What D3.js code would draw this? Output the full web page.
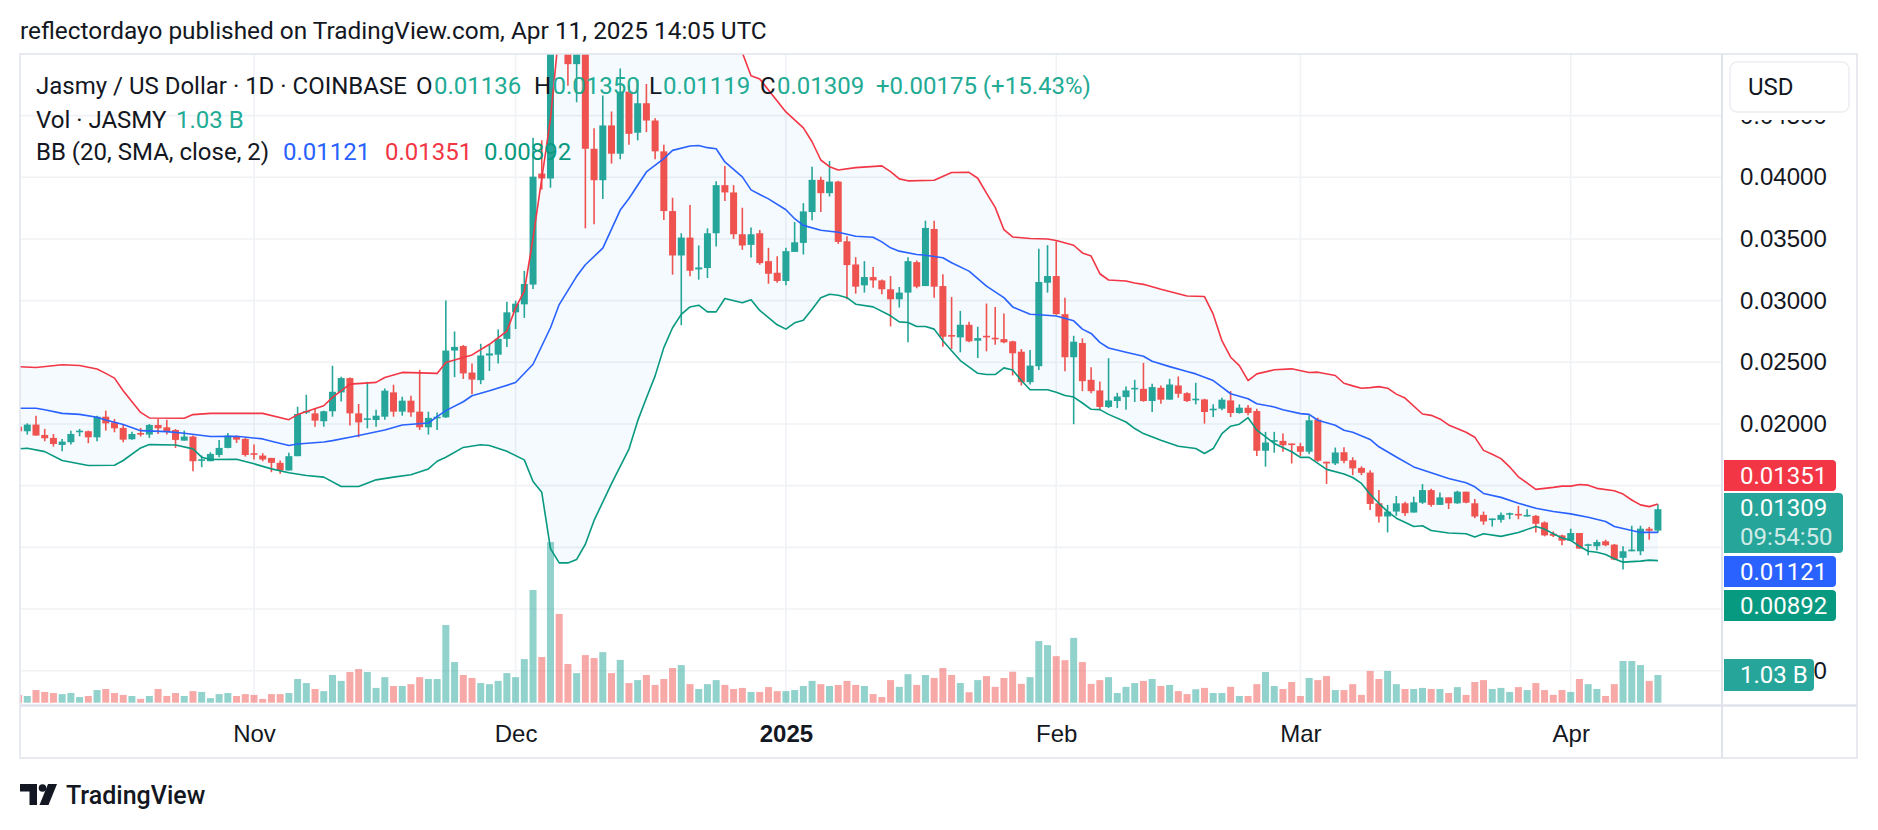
<!DOCTYPE html>
<html><head><meta charset="utf-8">
<script src="https://cdn.jsdelivr.net/npm/d3@7"></script>
<style>
body{margin:0;background:#fff;}
svg{display:block;font-family:Roboto,"Liberation Sans",Arial,sans-serif;}
</style></head>
<body><svg id="chart" width="1878" height="830"></svg>
<script>
// ---------------- DATA (daily candles, first = 2024-10-05) ----------------
const startDate = "2024-10-05";
const opens = [.01978,.01941,.01995,.01911,.01887,.01830,.01852,.01938,.01941,.01892,.02059,.02013,.01968,.01876,.01927,.01914,.01992,.01973,.01951,.01865,.01898,.01704,.01698,.01749,.01806,.01900,.01879,
.01763,.01744,.01725,.01685,.01623,.01739,.02092,.02086,.02022,.02103,.02256,.02372,.02086,.02035,.02032,.02059,.02256,.02100,.02189,.02100,.01973,.02049,.02054,.02595,.02632,.02417,.02355,.02555,.02562,.02690,
.02905,.02970,.03130,.04030,.03990,.05600,.05300,.04917,.05120,.04231,.03976,.04420,.04191,.04694,.04361,.04600,.04460,.04210,.03726,.03366,.03511,.03253,.03264,.03546,.03936,.03877,.03538,.03452,.03546,.03320,.03226,
.03159,.03395,.03468,.03718,.03979,.03871,.03965,.03481,.03293,.03124,.03191,.03164,.03092,.03011,.03065,.03312,.03118,.03581,.03118,.02721,.02702,.02804,.02675,.02715,.02699,.02688,.02670,.02586,.02339,.02468,.03145,
.03199,.02890,.02541,.02656,.02358,.02272,.02138,.02186,.02218,.02283,.02285,.02186,.02293,.02197,.02312,.02250,.02197,.02199,.02111,.02124,.02191,.02089,.02132,.02105,.01783,.01858,.01863,.01842,
.01820,.01775,.02035,.01694,.01680,.01771,.01706,.01644,.01606,.01357,.01250,.01290,.01357,.01282,.01362,.01464,.01344,.01405,.01357,.01451,.01357,.01263,.01223,.01223,.01266,.01271,.01252,.01255,.01202,.01110,.01097,
.01054,.01116,.01014,.01009,.01049,.01022,.00915,.00968,.00968,.01151,.01136];
const highs = [.01987,.02005,.02067,.01960,.01919,.01879,.01946,.01960,.01946,.02067,.02108,.02040,.02000,.01938,.01968,.02000,.02040,.02035,.01960,.01946,.01906,.01744,.01771,.01871,.01927,.01906,.01887,
.01833,.01763,.01725,.01704,.01766,.02140,.02237,.02127,.02108,.02472,.02383,.02377,.02162,.02342,.02116,.02288,.02318,.02221,.02229,.02439,.02100,.02094,.03000,.02750,.02640,.02490,.02650,.02646,.02765,.02990,
.03000,.03240,.04320,.04300,.06000,.06100,.05450,.05300,.05250,.04398,.04662,.04533,.04882,.04742,.04791,.04756,.04479,.04264,.03834,.03546,.03775,.03447,.03586,.03968,.04092,.03936,.03753,.03592,.03573,.03428,.03360,
.03428,.03637,.03790,.04086,.04005,.04132,.03971,.03522,.03352,.03320,.03272,.03172,.03199,.03110,.03352,.03325,.03648,.03648,.03213,.03030,.02917,.02828,.02788,.02976,.02949,.02895,.02675,.02608,.02600,.03420,.03449,
.03481,.03024,.02715,.02694,.02460,.02344,.02533,.02253,.02304,.02358,.02495,.02326,.02312,.02366,.02385,.02258,.02334,.02205,.02159,.02213,.02266,.02159,.02154,.02124,.01936,.01936,.01922,.01842,
.01847,.02070,.02051,.01694,.01809,.01811,.01730,.01657,.01625,.01464,.01344,.01416,.01370,.01411,.01513,.01475,.01445,.01405,.01459,.01451,.01392,.01290,.01234,.01282,.01282,.01336,.01309,.01263,.01210,.01129,.01102,
.01151,.01116,.01030,.01062,.01062,.01027,.01009,.01175,.01175,.01164,.01350];
const lows = [.01933,.01914,.01906,.01860,.01817,.01779,.01833,.01900,.01844,.01860,.01946,.01933,.01852,.01873,.01898,.01887,.01919,.01914,.01806,.01865,.01617,.01650,.01698,.01731,.01803,.01846,.01736,
.01712,.01698,.01609,.01596,.01623,.01739,.02081,.01978,.01978,.02059,.02183,.01987,.01892,.01965,.01978,.02035,.02059,.02067,.02059,.01951,.01914,.01951,.02049,.02380,.02365,.02240,.02323,.02430,.02490,.02625,
.02770,.02860,.03095,.03900,.03914,.05150,.04742,.04608,.03586,.03619,.03823,.04111,.04146,.04264,.04299,.04366,.04146,.03654,.03210,.02801,.03197,.03170,.03183,.03439,.03807,.03500,.03412,.03350,.03291,.03137,.03145,
.03124,.03395,.03374,.03651,.03718,.03844,.03460,.03011,.03057,.03065,.03105,.03051,.02791,.02944,.02662,.03100,.03118,.03024,.02627,.02608,.02581,.02662,.02535,.02589,.02643,.02655,.02393,.02312,.02320,.02438,.03065,
.02885,.02428,.01998,.02266,.02250,.02116,.02129,.02129,.02116,.02178,.02180,.02097,.02164,.02197,.02213,.02178,.02159,.02003,.02057,.02111,.02057,.02084,.02070,.01740,.01654,.01767,.01775,.01680,
.01740,.01756,.01694,.01514,.01667,.01682,.01585,.01585,.01303,.01202,.01121,.01255,.01255,.01282,.01352,.01330,.01344,.01311,.01352,.01357,.01236,.01183,.01169,.01202,.01228,.01228,.01250,.01121,.01089,.01084,.01017,
.01049,.00987,.00936,.00976,.01009,.00896,.00821,.00968,.00936,.01062,.01119];
const closes = [.01941,.01995,.01906,.01884,.01838,.01857,.01919,.01946,.01892,.02059,.02005,.01965,.01873,.01919,.01914,.01992,.01965,.01941,.01871,.01898,.01698,.01714,.01757,.01806,.01906,.01873,.01749,
.01752,.01712,.01685,.01623,.01739,.02081,.02105,.02027,.02103,.02261,.02372,.02086,.02013,.02046,.02067,.02270,.02100,.02189,.02094,.01973,.02049,.02059,.02595,.02625,.02410,.02360,.02555,.02572,.02690,.02905,
.02975,.03135,.04005,.03990,.05600,.05300,.04917,.05120,.04231,.03976,.04420,.04191,.04694,.04352,.04600,.04460,.04210,.03726,.03366,.03511,.03242,.03269,.03546,.03936,.03877,.03538,.03447,.03538,.03304,.03218,.03159,
.03401,.03473,.03723,.03979,.03871,.03965,.03476,.03288,.03113,.03191,.03164,.03092,.03011,.03065,.03320,.03113,.03589,.03113,.02707,.02710,.02804,.02670,.02696,.02702,.02688,.02662,.02573,.02339,.02473,.03151,.03199,
.02890,.02541,.02667,.02347,.02266,.02138,.02191,.02223,.02272,.02293,.02186,.02299,.02197,.02320,.02245,.02186,.02205,.02097,.02124,.02197,.02089,.02132,.02089,.01783,.01850,.01869,.01828,.01831,
.01775,.02030,.01702,.01680,.01769,.01701,.01640,.01604,.01352,.01250,.01290,.01357,.01277,.01365,.01464,.01344,.01405,.01357,.01451,.01362,.01250,.01210,.01234,.01263,.01277,.01261,.01263,.01191,.01097,.01094,.01054,
.01116,.00990,.01025,.01043,.01017,.00901,.00968,.00982,.01151,.01134,.01309];
// volume in billions JASMY
const volumes = [.29,.25,.47,.40,.36,.32,.36,.21,.25,.47,.51,.36,.29,.25,.14,.25,.51,.25,.36,.25,.43,.40,.17,.32,.36,.25,.32,
.29,.14,.32,.32,.36,.88,.73,.51,.43,1.03,.81,1.14,1.25,1.14,.55,.95,.62,.62,.69,.95,.88,.88,2.89,1.51,1.03,.92,.73,.69,.81,1.10,
.95,1.62,4.19,1.70,5.97,3.30,1.44,1.10,1.77,1.66,1.88,1.10,1.59,.73,.84,1.03,.66,.88,1.29,1.40,.69,.51,.69,.84,.66,.51,.55,.40,.40,.58,.43,
.43,.47,.62,.81,.69,.62,.66,.81,.66,.62,.32,.21,.84,.59,1.06,.66,1.03,.92,1.29,1.03,.73,.39,.84,.99,.59,.92,1.15,.70,.95,2.29,2.14,
1.73,1.58,2.41,1.51,.70,.84,.95,.36,.59,.73,.81,.88,.62,.66,.43,.32,.50,.55,.36,.36,.59,.25,.25,.69,1.14,.62,.51,.77,
.25,.92,.84,.99,.47,.47,.69,.29,1.18,.88,1.18,.69,.51,.51,.55,.51,.51,.36,.58,.29,.77,.84,.51,.55,.40,.58,.47,.73,.47,.29,.47,
.40,.88,.69,.51,.25,.69,1.55,1.55,1.40,.81,1.03];
// Bollinger Bands (20, SMA, close, 2): [candle index, value]
const bbUpper = [[0,.02464],[2,.02458],[5,.02480],[7,.02474],[9,.02445],[10,.02410],[11,.02372],[12,.02270],[14,.02094],[15,.02049],[19,.02046],[20,.02076],[22,.02086],[28,.02086],[31,.02035],[32,.02076],[35,.02148],[36,.02216],[38,.02323],[41,.02337],[42,.02377],[44,.02418],[48,.02410],[49,.02499],[52,.02560],[54,.02646],[56,.02753],[57,.02941],[58,.03076],[59,.03506],[60,.03990],[61,.04473],[62,.05200],[63,.05600],[65,.06100],[68,.06400],[72,.06500],[76,.06400],[79,.06000],[81,.05500],[83,.05010],[84,.04823],[85,.04796],[88,.04530],[90,.04400],[91,.04288],[92,.04140],[93,.04086],[94,.04059],[96,.04078],[99,.04092],[100,.04046],[101,.03987],[102,.03971],[105,.03976],[107,.04038],[109,.04040],[110,.03992],[111,.03871],[112,.03756],[113,.03575],[114,.03516],[116,.03503],[118,.03500],[119,.03487],[121,.03449],[122,.03387],[123,.03361],[124,.03218],[125,.03167],[127,.03159],[128,.03143],[129,.03132],[131,.03092],[134,.03038],[136,.03033],[137,.02890],[138,.02675],[139,.02541],[140,.02473],[141,.02352],[142,.02406],[144,.02439],[146,.02447],[148,.02417],[149,.02420],[151,.02393],[152,.02330],[153,.02309],[154,.02290],[155,.02295],[156,.02303],[157,.02290],[158,.02242],[159,.02210],[161,.02081],[162,.02070],[163,.02041],[164,.01992],[166,.01933],[167,.01893],[168,.01786],[169,.01754],[170,.01719],[171,.01652],[172,.01572],[174,.01470],[176,.01486],[177,.01496],[178,.01496],[179,.01510],[180,.01504],[181,.01478],[183,.01459],[184,.01432],[185,.01384],[186,.01344],[187,.01330],[188,.01351]];
const bbMiddle = [[0,.02127],[2,.02127],[3,.02116],[5,.02086],[7,.02078],[9,.02054],[10,.02032],[12,.01995],[14,.01946],[17,.01938],[19,.01925],[22,.01898],[25,.01900],[28,.01879],[29,.01860],[31,.01825],[32,.01838],[35,.01854],[36,.01865],[38,.01892],[39,.01906],[42,.01951],[44,.01992],[47,.02008],[48,.02059],[49,.02108],[51,.02180],[52,.02229],[54,.02269],[57,.02336],[59,.02484],[61,.02780],[62,.02968],[64,.03197],[65,.03291],[67,.03425],[69,.03734],[70,.03828],[72,.04043],[74,.04151],[75,.04218],[77,.04253],[78,.04258],[79,.04240],[80,.04231],[81,.04124],[83,.04003],[84,.03898],[85,.03860],[86,.03825],[88,.03737],[89,.03664],[90,.03610],[92,.03570],[94,.03554],[96,.03522],[98,.03514],[99,.03476],[100,.03428],[101,.03401],[103,.03374],[104,.03368],[106,.03347],[107,.03307],[109,.03239],[111,.03118],[113,.03024],[114,.02949],[116,.02890],[117,.02885],[119,.02875],[121,.02836],[122,.02769],[123,.02734],[124,.02662],[125,.02616],[127,.02581],[129,.02549],[130,.02508],[132,.02465],[134,.02425],[135,.02406],[137,.02352],[138,.02299],[139,.02245],[141,.02205],[142,.02164],[144,.02138],[145,.02116],[147,.02084],[148,.02078],[149,.02030],[151,.01990],[152,.01949],[153,.01933],[155,.01875],[156,.01815],[158,.01732],[160,.01652],[162,.01604],[164,.01558],[166,.01523],[167,.01491],[168,.01437],[170,.01405],[172,.01357],[174,.01317],[176,.01290],[178,.01271],[180,.01244],[182,.01210],[183,.01169],[185,.01137],[186,.01121],[188,.01121]];
const bbLower = [[0,.01798],[1,.01803],[3,.01776],[5,.01704],[8,.01663],[11,.01666],[12,.01704],[14,.01806],[15,.01833],[18,.01830],[20,.01798],[21,.01731],[22,.01712],[25,.01714],[27,.01677],[29,.01636],[31,.01604],[33,.01582],[35,.01569],[37,.01493],[39,.01493],[41,.01547],[43,.01569],[45,.01588],[47,.01636],[48,.01698],[49,.01730],[51,.01810],[53,.01832],[54,.01825],[56,.01779],[58,.01709],[59,.01534],[60,.01446],[61,.00990],[62,.00874],[63,.00874],[64,.00902],[65,.01025],[66,.01218],[68,.01516],[69,.01657],[70,.01797],[71,.02025],[72,.02210],[73,.02390],[74,.02619],[75,.02780],[76,.02888],[77,.02949],[78,.02963],[79,.02909],[80,.02909],[81,.03017],[83,.02982],[84,.03008],[85,.02920],[86,.02863],[87,.02804],[88,.02769],[89,.02820],[90,.02841],[91,.02930],[92,.03024],[93,.03051],[94,.03043],[95,.03024],[96,.02971],[98,.02949],[100,.02877],[101,.02828],[102,.02823],[103,.02790],[104,.02790],[105,.02769],[106,.02675],[107,.02594],[108,.02514],[110,.02411],[111,.02401],[112,.02401],[113,.02455],[114,.02438],[115,.02352],[116,.02277],[118,.02277],[119,.02258],[120,.02231],[121,.02218],[122,.02170],[123,.02119],[124,.02116],[125,.02078],[127,.02016],[128,.01963],[129,.01922],[131,.01869],[133,.01820],[135,.01801],[136,.01761],[137,.01801],[138,.01922],[139,.01982],[140,.01998],[141,.02051],[142,.01950],[144,.01842],[146,.01775],[147,.01729],[148,.01729],[149,.01681],[150,.01632],[152,.01594],[153,.01566],[154,.01518],[155,.01430],[156,.01357],[157,.01290],[158,.01236],[160,.01169],[161,.01175],[162,.01137],[164,.01116],[166,.01110],[167,.01084],[168,.01110],[170,.01089],[172,.01121],[174,.01169],[175,.01148],[176,.01110],[177,.01076],[178,.01057],[179,.01009],[180,.00968],[181,.00960],[182,.00942],[183,.00907],[184,.00880],[186,.00888],[187,.00896],[188,.00892]];
// axis ticks
const priceGridTicks = [0.045,0.04,0.035,0.03,0.025,0.02,0.015,0.01,0.005,0];
const priceLabelTicks = [0.045,0.04,0.035,0.03,0.025,0.02,0];
const monthTickDates = ["2024-11-01","2024-12-01","2025-01-01","2025-02-01","2025-03-01","2025-04-01"];
const monthTickLabels = ["Nov","Dec","2025","Feb","Mar","Apr"];
// last values / tags
const lastUpper = 0.01351, lastClose = 0.01309, lastMiddle = 0.01121, lastLower = 0.00892, lastVolume = 1.03;
const countdown = "09:54:50";

// ---------------- LAYOUT ----------------
const C = {up:"#26a69a", down:"#ef5350", volUp:"rgba(38,166,154,0.5)", volDown:"rgba(239,83,80,0.5)",
  bbMid:"#2962ff", bbUp:"#f23645", bbLow:"#089981", fill:"rgba(33,150,243,0.05)", text:"#131722",
  grid:"#f0f2f5", border:"#e0e3eb"};
const pane = {l:20, r:1722, t:54, b:705};
const FS = 24;
const svg = d3.select("#chart");
const parse = d3.utcParse("%Y-%m-%d");
const day0 = parse(startDate);
const dates = opens.map((_, i) => d3.utcDay.offset(day0, i));
const n = dates.length;
const x = d3.scaleUtc().domain([dates[0], dates[n-1]]).range([18.56, 18.56 + 8.72*(n-1)]);
const yP = d3.scaleLinear().domain([0, 0.05]).range([670.7, 53.9]);
const yV = d3.scaleLinear().domain([0, 1]).range([702.7, 675.8]);
const xi = i => x(dates[i]);

svg.append("rect").attr("width",1878).attr("height",830).attr("fill","#fff");

// header
svg.append("text").attr("x",20).attr("y",30).attr("dy","0.35em").attr("font-size",FS+0.4)
  .attr("fill",C.text).text("reflectordayo published on TradingView.com, Apr 11, 2025 14:05 UTC");

// clip
svg.append("defs").append("clipPath").attr("id","paneClip").append("rect")
  .attr("x",pane.l).attr("y",pane.t).attr("width",pane.r-pane.l).attr("height",pane.b-pane.t);

// grid
const grid = svg.append("g");
grid.selectAll("line.h").data(priceGridTicks).join("line")
  .attr("x1",pane.l).attr("x2",pane.r).attr("y1",d=>yP(d)).attr("y2",d=>yP(d))
  .attr("stroke",C.grid).attr("stroke-width",1.6);
grid.selectAll("line.v").data(monthTickDates).join("line")
  .attr("x1",d=>x(parse(d))).attr("x2",d=>x(parse(d))).attr("y1",pane.t).attr("y2",pane.b)
  .attr("stroke",C.grid).attr("stroke-width",1.6);

const plot = svg.append("g").attr("clip-path","url(#paneClip)");

// BB fill
const line = d3.line().x(d=>xi(d[0])).y(d=>yP(d[1]));
const fillPts = bbUpper.concat(bbLower.slice().reverse());
plot.append("path").attr("d", line(fillPts)+"Z").attr("fill",C.fill).attr("stroke","none");

// volume
plot.append("g").selectAll("rect").data(volumes).join("rect")
  .attr("x",(d,i)=>xi(i)-3.5).attr("width",7)
  .attr("y",d=>yV(d)).attr("height",d=>yV(0)-yV(d))
  .attr("fill",(d,i)=>closes[i]>=opens[i]?C.volUp:C.volDown);

// candles
const cg = plot.append("g");
const idx = d3.range(n);
cg.selectAll("line").data(idx).join("line")
  .attr("x1",i=>xi(i)).attr("x2",i=>xi(i))
  .attr("y1",i=>yP(highs[i])).attr("y2",i=>yP(lows[i]))
  .attr("stroke",i=>closes[i]>=opens[i]?C.up:C.down).attr("stroke-width",1.6);
cg.selectAll("rect").data(idx).join("rect")
  .attr("x",i=>xi(i)-3.5).attr("width",7)
  .attr("y",i=>yP(Math.max(opens[i],closes[i])))
  .attr("height",i=>Math.max(1.6, Math.abs(yP(opens[i])-yP(closes[i]))))
  .attr("fill",i=>closes[i]>=opens[i]?C.up:C.down);

// BB lines
[[bbUpper,C.bbUp],[bbMiddle,C.bbMid],[bbLower,C.bbLow]].forEach(([d,c])=>{
  plot.append("path").attr("d",line(d)).attr("fill","none").attr("stroke",c).attr("stroke-width",1.6)
    .attr("stroke-linejoin","round");
});

// frame & separators
svg.append("rect").attr("x",pane.l).attr("y",pane.t).attr("width",1857-pane.l).attr("height",758-pane.t)
  .attr("fill","none").attr("stroke",C.border).attr("stroke-width",1.5);
svg.append("line").attr("x1",pane.l).attr("x2",1857).attr("y1",pane.b+0.5).attr("y2",pane.b+0.5)
  .attr("stroke",C.border).attr("stroke-width",2.5);

// price axis
const pAxis = svg.append("g").attr("transform",`translate(${pane.r},0)`)
  .call(d3.axisRight(yP).tickValues(priceLabelTicks).tickFormat(d3.format(".5f")).tickSize(0).tickPadding(18));
pAxis.select(".domain").remove();
pAxis.selectAll("text").attr("font-size",FS).attr("fill",C.text).attr("font-family",null);

// area behind the currency button hides the top label
svg.append("rect").attr("x",pane.r+1.5).attr("y",pane.t+1).attr("width",1856-pane.r-2).attr("height",65).attr("fill","#fff");
svg.append("line").attr("x1",pane.r).attr("x2",pane.r).attr("y1",pane.t).attr("y2",758)
  .attr("stroke",C.border).attr("stroke-width",2);

// time axis
const tAxis = svg.append("g").attr("transform",`translate(0,${pane.b})`)
  .call(d3.axisBottom(x).tickValues(monthTickDates.map(parse)).tickFormat((d,i)=>monthTickLabels[i]).tickSize(0).tickPadding(20));
tAxis.select(".domain").remove();
tAxis.selectAll("text").attr("font-size",FS).attr("fill",C.text).attr("font-family",null)
  .attr("font-weight",(d,i)=>monthTickLabels[i]==="2025"?"bold":"normal");

// USD button
svg.append("rect").attr("x",1730).attr("y",62).attr("width",119).attr("height",50).attr("rx",7)
  .attr("fill","#fff").attr("stroke","#eceef2").attr("stroke-width",1.5);
svg.append("text").attr("x",1748).attr("y",87).attr("dy","0.35em").attr("font-size",FS).attr("fill",C.text).text("USD");

// tags
function tag(y0,y1,x1,color,lines){
  const x0 = pane.r+2, r=4;
  svg.append("path").attr("d",`M${x0},${y0}H${x1-r}Q${x1},${y0} ${x1},${y0+r}V${y1-r}Q${x1},${y1} ${x1-r},${y1}H${x0}Z`).attr("fill",color);
  lines.forEach(l=>svg.append("text").attr("x",1740).attr("y",l.y).attr("dy","0.35em").attr("font-size",FS)
    .attr("fill","#fff").attr("fill-opacity",l.op||1).text(l.t));
}
const f5 = d3.format(".5f");
tag(460,491,1836,C.bbUp,[{t:f5(lastUpper),y:475.5}]);
tag(493,553,1843,C.up,[{t:f5(lastClose),y:508},{t:countdown,y:537,op:0.8}]);
tag(556,587,1836,C.bbMid,[{t:f5(lastMiddle),y:571.5}]);
tag(590,621,1836,C.bbLow,[{t:f5(lastLower),y:605.5}]);
tag(yV(lastVolume)-16,yV(lastVolume)+16,1814,C.up,[{t:lastVolume.toFixed(2)+" B",y:yV(lastVolume)}]);

// legend
const teal = "#22ab94";
function lt(xp,y,t,c){ svg.append("text").attr("x",xp).attr("y",y).attr("dy","0.35em").attr("font-size",FS).attr("fill",c).text(t); }
const ohlc = [opens[n-1],highs[n-1],lows[n-1],closes[n-1]];
const chg = closes[n-1]-closes[n-2];
lt(36,86,"Jasmy / US Dollar · 1D · COINBASE",C.text);
lt(416,86,"O",C.text); lt(434,86,f5(ohlc[0]),teal);
lt(534,86,"H",C.text); lt(552.5,86,f5(ohlc[1]),teal);
lt(649,86,"L",C.text); lt(663,86,f5(ohlc[2]),teal);
lt(760,86,"C",C.text); lt(777,86,f5(ohlc[3]),teal);
lt(876,86,"+"+f5(chg)+" (+"+(chg/closes[n-2]*100).toFixed(2)+"%)",teal);
lt(36,120,"Vol · JASMY",C.text); lt(176,120,lastVolume.toFixed(2)+" B",teal);
lt(36,152,"BB (20, SMA, close, 2)",C.text);
lt(283,152,f5(lastMiddle),C.bbMid); lt(385,152,f5(lastUpper),C.bbUp); lt(484,152,f5(lastLower),C.bbLow);

// TradingView logo
const logo = svg.append("g").attr("fill","#131722");
logo.append("path").attr("d","M20,784H37V805H29.5V791.5H20Z");
logo.append("circle").attr("cx",42.5).attr("cy",788).attr("r",3.8);
logo.append("path").attr("d","M48,784H57L48.5,805H39.5Z");
svg.append("text").attr("x",66).attr("y",795).attr("dy","0.35em").attr("font-size",25).attr("font-weight",500)
  .attr("fill","#131722").text("TradingView");
</script></body></html>
